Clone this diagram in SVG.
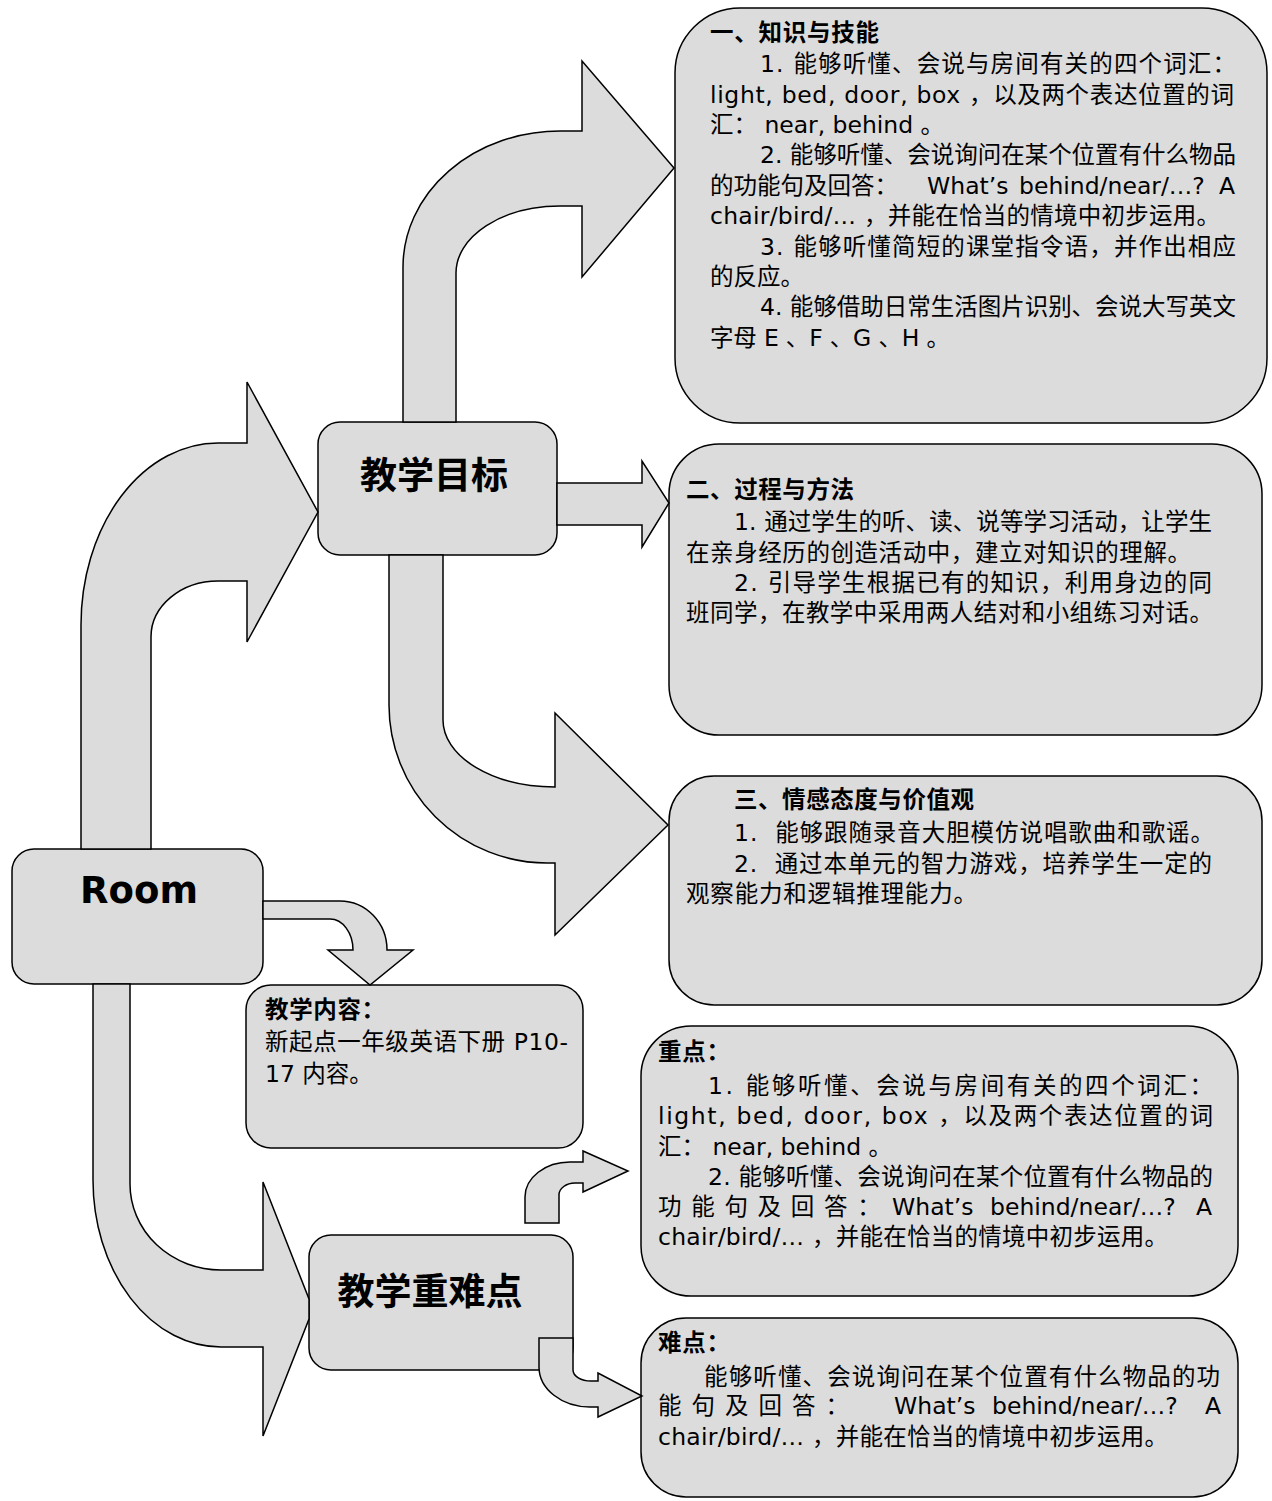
<svg xmlns="http://www.w3.org/2000/svg" width="1272" height="1501" viewBox="0 0 1272 1501">
<style>
.box{fill:#dcdcdc;stroke:#000;stroke-width:1.5}
.arr{fill:#dcdcdc;stroke:#000;stroke-width:1.5;stroke-linejoin:miter}
.t{font-family:"DejaVu Sans","Noto Sans CJK SC",sans-serif;font-size:23.5px;fill:#000;white-space:pre}
.b{font-weight:bold}
.h{font-family:"DejaVu Sans","Noto Sans CJK SC",sans-serif;font-weight:bold;font-size:37px;fill:#000;text-anchor:middle}
</style>
<rect width="1272" height="1501" fill="#fff"/>

<g id="n-room">
<rect class="box" x="12" y="849" width="251" height="135" rx="22"/>
<text class="h" x="139" y="903" font-size="36">Room</text>
</g>

<g id="n-goals">
<rect class="box" x="318" y="422" width="239" height="133" rx="22"/>
<text class="h" x="434" y="489">教学目标</text>
</g>

<g id="n-content">
<rect class="box" x="246" y="985" width="337" height="163" rx="25"/>
<text class="t b" x="265" y="1018" textLength="120">教学内容：</text>
<text class="t" x="265" y="1050" textLength="303">新起点一年级英语下册 P10-</text>
<text class="t" x="265" y="1082">17 内容。</text>
</g>

<g id="n-keydiff">
<rect class="box" x="309" y="1235" width="264" height="135" rx="22"/>
<text class="h" x="430" y="1305">教学重难点</text>
</g>

<g id="n-knowledge">
<rect class="box" x="675" y="8" width="592" height="415" rx="65"/>
<text class="t b" x="710" y="41" textLength="169">一、知识与技能</text>
<text class="t" x="760" y="72" textLength="476">1. 能够听懂、会说与房间有关的四个词汇：</text>
<text class="t" x="710" y="103" textLength="524">light, bed, door, box ，以及两个表达位置的词</text>
<text class="t" x="710" y="133" textLength="234">汇： near, behind 。</text>
<text class="t" x="760" y="163" textLength="476">2. 能够听懂、会说询问在某个位置有什么物品</text>
<text class="t" y="194"><tspan x="710">的功能句及回答：</tspan><tspan x="927">What’s</tspan><tspan x="1019">behind/near/…?</tspan><tspan x="1219">A</tspan></text>
<text class="t" x="710" y="224" textLength="510">chair/bird/… ，并能在恰当的情境中初步运用。</text>
<text class="t" x="760" y="255" textLength="476">3. 能够听懂简短的课堂指令语，并作出相应</text>
<text class="t" x="710" y="285" textLength="94">的反应。</text>
<text class="t" x="760" y="315" textLength="476">4. 能够借助日常生活图片识别、会说大写英文</text>
<text class="t" x="710" y="346" textLength="240">字母 E 、F 、G 、H 。</text>
</g>

<g id="n-process">
<rect class="box" x="669" y="444" width="593" height="291" rx="50"/>
<text class="t b" x="686" y="498" textLength="168">二、过程与方法</text>
<text class="t" x="734" y="530" textLength="478">1. 通过学生的听、读、说等学习活动，让学生</text>
<text class="t" x="686" y="561" textLength="505">在亲身经历的创造活动中，建立对知识的理解。</text>
<text class="t" x="734" y="591" textLength="478">2. 引导学生根据已有的知识，利用身边的同</text>
<text class="t" x="686" y="621" textLength="527">班同学，在教学中采用两人结对和小组练习对话。</text>
</g>

<g id="n-attitude">
<rect class="box" x="669" y="776" width="593" height="229" rx="45"/>
<text class="t b" x="734" y="808" textLength="240">三、情感态度与价值观</text>
<text class="t" x="734" y="841" textLength="480">1.  能够跟随录音大胆模仿说唱歌曲和歌谣。</text>
<text class="t" x="734" y="872" textLength="478">2.  通过本单元的智力游戏，培养学生一定的</text>
<text class="t" x="686" y="902" textLength="291">观察能力和逻辑推理能力。</text>
</g>

<g id="n-key">
<rect class="box" x="641" y="1026" width="597" height="270" rx="50"/>
<text class="t b" x="658" y="1060" textLength="72">重点：</text>
<text class="t" x="708" y="1094" textLength="505">1. 能够听懂、会说与房间有关的四个词汇：</text>
<text class="t" x="658" y="1124" textLength="555">light, bed, door, box ，以及两个表达位置的词</text>
<text class="t" x="658" y="1155" textLength="234">汇： near, behind 。</text>
<text class="t" x="708" y="1185" textLength="505">2. 能够听懂、会说询问在某个位置有什么物品的</text>
<text class="t" y="1215"><tspan x="658" letter-spacing="9.7">功能句及回答：</tspan><tspan x="892">What’s</tspan><tspan x="990">behind/near/…?</tspan><tspan x="1196">A</tspan></text>
<text class="t" x="658" y="1245" textLength="510">chair/bird/… ，并能在恰当的情境中初步运用。</text>
</g>

<g id="n-diff">
<rect class="box" x="641" y="1318" width="597" height="179" rx="45"/>
<text class="t b" x="658" y="1351" textLength="72">难点：</text>
<text class="t" x="704" y="1385" textLength="516">能够听懂、会说询问在某个位置有什么物品的功</text>
<text class="t" y="1414"><tspan x="658" letter-spacing="10">能句及回答：</tspan><tspan x="894">What’s</tspan><tspan x="992">behind/near/…?</tspan><tspan x="1205">A</tspan></text>
<text class="t" x="658" y="1445" textLength="510">chair/bird/… ，并能在恰当的情境中初步运用。</text>
</g>

<g id="connectors">
<path id="c-room-goals" class="arr" d="M 81 849 L 81 625 A 137 182 0 0 1 218 443 L 247 443 L 247 382 L 318 512 L 247 642 L 247 581 L 218 581 A 67 56 0 0 0 151 637 L 151 849 Z"/>
<path id="c-goals-knowledge" class="arr" d="M 403 422 L 403 267 A 157 136 0 0 1 560 131 L 582 131 L 582 61 L 674 168 L 582 277 L 582 206 L 560 206 A 104 67 0 0 0 456 273 L 456 422 Z"/>
<path id="c-goals-process" class="arr" d="M 557 483 L 642 483 L 642 461 L 669 503 L 642 547 L 642 525 L 557 525 Z"/>
<path id="c-goals-attitude" class="arr" d="M 389 555 L 389 705 A 158 158 0 0 0 547 863 L 555 863 L 555 935 L 668 825 L 555 713 L 555 787 A 112 67 0 0 1 443 720 L 443 555 Z"/>
<path id="c-room-content" class="arr" d="M 263 901 L 340 901 A 47 49 0 0 1 387 950 L 413 950 L 370 985 L 328 950 L 353 950 A 23 31 0 0 0 330 919 L 263 919 Z"/>
<path id="c-room-keydiff" class="arr" d="M 93 984 L 93 1180 A 128 167 0 0 0 221 1347 L 263 1347 L 263 1436 L 309 1319 L 309 1299 L 263 1182 L 263 1270 L 221 1270 A 91 86 0 0 1 130 1184 L 130 984 Z"/>
<path id="c-keydiff-key" class="arr" d="M 525 1223 L 525 1197 A 45 35 0 0 1 570 1162 L 583 1162 L 583 1151 L 628 1171 L 583 1192 L 583 1183 L 575 1183 A 16 12 0 0 0 559 1195 L 559 1223 Z"/>
<path id="c-keydiff-diff" class="arr" d="M 539 1338 L 573 1338 L 573 1370 A 18 11 0 0 0 591 1381 L 598 1381 L 598 1373 L 642 1396 L 598 1417 L 598 1407 L 590 1407 A 51 40 0 0 1 539 1367 Z"/>
</g>
</svg>
